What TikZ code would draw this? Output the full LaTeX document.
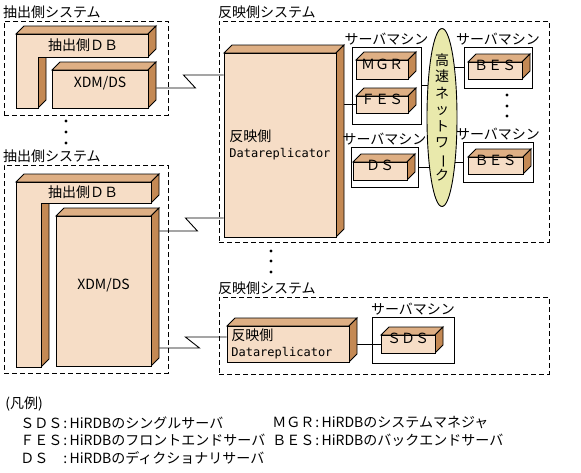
\documentclass[tikz,border=0pt]{standalone}
\usepackage{fontspec}
\setmainfont{Noto Sans CJK JP}
\newfontfamily\monofont{DejaVu Sans Mono}
\usepackage{graphicx}
\usepackage{xcolor}
\definecolor{box-front}{RGB}{246,221,198}
\definecolor{box-top}{RGB}{222,175,132}
\definecolor{box-side}{RGB}{196,137,84}
\definecolor{net-fill}{RGB}{233,233,172}
\usepackage{tikz}
\usetikzlibrary{positioning,shapes.geometric,fit,backgrounds}
\tikzset{every node/.style={font=\fontsize{14}{16}\selectfont}}

% 3D box: name, x1, y1, x2, y2, text
\newcommand{\bdepth}{8}
\newcommand{\cuboid}[6]{%
  \filldraw[box top] (#2,#3) -- ++(\bdepth,-\bdepth) -- (#4+\bdepth,#3-\bdepth) -- (#4,#3) -- cycle;
  \filldraw[box side] (#4,#3) -- (#4+\bdepth,#3-\bdepth) -- (#4+\bdepth,#5-\bdepth) -- (#4,#5) -- cycle;
  \node[box front, fit={(#2,#3) (#4,#5)}] (#1) {#6};
}

\begin{document}
\begin{tikzpicture}[
  x=1pt, y=-1pt,
  line width=0.9pt,
  box top/.style={fill=box-top, draw=black},
  box side/.style={fill=box-side, draw=black},
  box front/.style={fill=box-front, draw=black, inner sep=0pt},
  system/.style={draw=black, dash pattern=on 5pt off 3pt, inner sep=0pt},
  server/.style={draw=black, inner sep=0pt},
  link/.style={draw=black, line width=0.9pt},
  caption/.style={inner sep=1pt},
  legend/.style={inner sep=0pt, anchor=west}
]
\useasboundingbox (0,0) rectangle (581,472);

% Source system 1
\node[system, fit={(4,21) (168,115)}] (src1) {};
\node[caption, above right=0pt and -2pt of src1.north west] (src1label) {抽出側システム};
\filldraw[box top] (16,34) -- (24,26) -- (156,26) -- (148,34) -- cycle;
\filldraw[box side] (148,34) -- (156,26) -- (156,49) -- (148,57) -- cycle;
\filldraw[box side] (38,57) -- (46,57) -- (46,100) -- (38,108) -- cycle;
\filldraw[box front] (16,34) -- (148,34) -- (148,57) -- (38,57) -- (38,108) -- (16,108) -- cycle;
\node (db1) at (83,45.5) {抽出側ＤＢ};
\cuboid{xdm1}{52}{70}{148}{108}{XDM/DS}

\foreach \y in {121,132,143} \fill (66,\y) circle (1.6pt);

% Source system 2
\node[system, fit={(4,165) (168,373)}] (src2) {};
\node[caption, above right=0pt and -2pt of src2.north west] (src2label) {抽出側システム};
\filldraw[box top] (16,182) -- (24,174) -- (159,174) -- (151,182) -- cycle;
\filldraw[box side] (151,182) -- (159,174) -- (159,195) -- (151,203) -- cycle;
\filldraw[box side] (41,203) -- (49,203) -- (49,359) -- (41,367) -- cycle;
\filldraw[box front] (16,182) -- (151,182) -- (151,203) -- (41,203) -- (41,367) -- (16,367) -- cycle;
\node (db2) at (83,192.5) {抽出側ＤＢ};
\cuboid{xdm2}{56}{216}{151}{366}{XDM/DS}

% Target system 1
\node[system, fit={(219,21) (549,242)}] (tgt1) {};
\node[caption, above right=0pt and -2pt of tgt1.north west] (tgt1label) {反映側システム};
\cuboid{repl1}{224}{53}{336}{237}{}
\node[align=left, right=2pt of repl1.west] (repl1text) {反映側\\{\fontsize{12}{16}\monofont Datareplicator}};

\node[server, fit={(352,47) (421,124)}] (srv1) {};
\node[caption, above=0pt of srv1] (srv1label) {サーバマシン};
\cuboid{mgr}{356}{60}{408}{79}{ＭＧＲ}
\cuboid{fes}{356}{96}{408}{113}{ＦＥＳ}

\node[server, fit={(351,147) (418,187)}] (srv2) {};
\node[caption, above=0pt of srv2] (srv2label) {サーバマシン};
\cuboid{ds}{353}{162}{407}{180}{ＤＳ}

% Network
\node[ellipse, draw=black, fill=net-fill, minimum width=30pt, minimum height=178pt, inner sep=0pt] (net) at (442,117.5) {};
\node[align=center, font=\fontsize{14}{16.5}\selectfont] (nettext) at (net.center) {高\\速\\ネ\\ッ\\ト\\ワ\\\rotatebox[origin=c]{-90}{ー}\\ク};

\node[server, fit={(464,47) (532,88)}] (srv3) {};
\node[caption, above=0pt of srv3] (srv3label) {サーバマシン};
\cuboid{bes1}{468}{62}{522}{79}{ＢＥＳ}

\foreach \y in {95,106,116} \fill (507,\y) circle (1.6pt);

\node[server, fit={(463,142) (533,182)}] (srv4) {};
\node[caption, above=0pt of srv4] (srv4label) {サーバマシン};
\cuboid{bes2}{468}{157}{523}{174}{ＢＥＳ}

\foreach \y in {251,261,272} \fill (271,\y) circle (1.6pt);

% Target system 2
\node[system, fit={(219,297) (549,374)}] (tgt2) {};
\node[caption, above right=0pt and -2pt of tgt2.north west] (tgt2label) {反映側システム};
\cuboid{repl2}{227}{326}{349}{362}{}
\node[align=left, right=1pt of repl2.west] (repl2text) {反映側\\{\fontsize{12}{16}\monofont Datareplicator}};

\node[server, fit={(372,317) (454,363)}] (srv5) {};
\node[caption, above=0pt of srv5] (srv5label) {サーバマシン};
\cuboid{sds}{381}{335}{435}{353}{ＳＤＳ}

% Connectors
\begin{scope}[on background layer]
\coordinate (r1side) at ([xshift=8pt]repl1.east);
\coordinate (r2side) at ([xshift=8pt]repl2.east);
\draw[link] ([xshift=8pt,yshift=1pt]xdm1.east) -- ++(39,0) -- ++(-12,-13) coordinate (k1) -- (k1 -| repl1.west);
\draw[link] ([xshift=8pt,yshift=60pt]xdm2.east) -- ++(38,0) -- ++(-12,-13) coordinate (k2) -- (k2 -| repl1.west);
\draw[link] ([xshift=8pt,yshift=-57pt]xdm2.east) -- ++(40,0) -- ++(-14,-11) coordinate (k3) -- (k3 -| repl2.west);
\draw[link] (r1side |- fes.west) -- (fes.west);
\draw[link] (srv1.east) -- (srv1.east -| net.center);
\draw[link] (srv2.east) -- (srv2.east -| net.center);
\draw[link] (net.center |- srv3.west) -- (srv3.west);
\draw[link] (net.center |- srv4.west) -- (srv4.west);
\draw[link] (r2side |- sds.west) -- (sds.west);
\end{scope}

% Legend
\node[legend] (legtitle) at (5,404) {(凡例)};
\node[legend] (legsds) at (20,423) {\makebox[43pt][l]{ＳＤＳ}:\,HiRDBのシングルサーバ};
\node[legend] (legfes) at (20,440) {\makebox[43pt][l]{ＦＥＳ}:\,HiRDBのフロントエンドサーバ};
\node[legend] (legds) at (20,458) {\makebox[43pt][l]{ＤＳ}:\,HiRDBのディクショナリサーバ};
\node[legend] (legmgr) at (272,423) {\makebox[43pt][l]{ＭＧＲ}:\,HiRDBのシステムマネジャ};
\node[legend] (legbes) at (272,440) {\makebox[43pt][l]{ＢＥＳ}:\,HiRDBのバックエンドサーバ};

\end{tikzpicture}
\end{document}
